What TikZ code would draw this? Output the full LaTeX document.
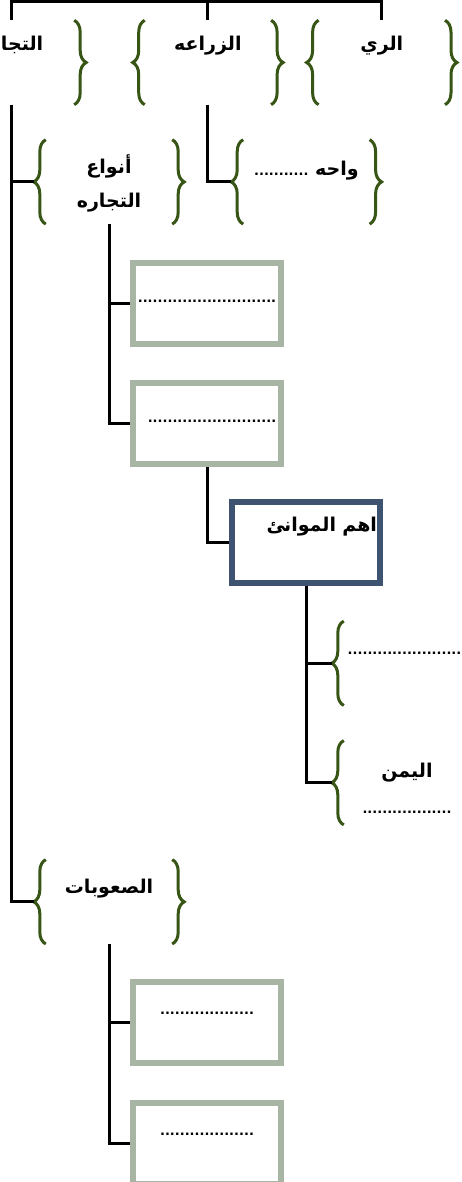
\documentclass[tikz,border=0pt]{standalone}
\usepackage{fontspec}
\usepackage{tikz}
\usetikzlibrary{positioning}
\usetikzlibrary{decorations.pathreplacing}
\newfontfamily\arabicfont[Script=Arabic]{DejaVu Sans}
\TeXXeTstate=1
\newcommand{\ar}[1]{\beginR #1\endR}
\newcommand{\dts}[1]{{\fontsize{13}{15}\selectfont #1}}
\definecolor{bracegreen}{RGB}{55,85,20}
\definecolor{boxgray}{RGB}{168,181,164}
\definecolor{boxnavy}{RGB}{62,83,112}
\tikzstyle{edge}=[
	-,
	draw=black,
	line width=3pt
]
\tikzstyle{bvert}=[
	minimum width=150pt,
	inner sep=0pt,
	align=center,
	font=\arabicfont\bfseries\fontsize{19}{22}\selectfont
]
\tikzstyle{tvert}=[
	bvert,
	text height=30pt,
	text depth=54pt
]
\tikzstyle{bracepath}=[
	draw=bracegreen,
	line width=3pt,
	decorate,
	decoration={brace, amplitude=12pt}
]
\tikzstyle{gbox}=[
	draw=boxgray,
	line width=6pt,
	minimum width=148pt,
	inner sep=0pt,
	font=\arabicfont\bfseries\fontsize{19}{22}\selectfont
]
\tikzstyle{nbox}=[
	gbox,
	draw=boxnavy,
	text width=142pt,
	align=right
]
\begin{document}
\begin{tikzpicture}[x=1pt, y=1pt]
\useasboundingbox (0,0) rectangle (462,-1182);
\clip (0,0) rectangle (462,-1182);

\coordinate (rootup) at (196,5);
\coordinate (root) at (196,-2);

\node[tvert] (tijara) at (11,-62.5) {\ar{التجاره}};
\node[tvert, right=46.5pt of tijara] (zeraa) {\ar{الزراعه}};
\node[tvert, right=23.5pt of zeraa] (rayy) {\ar{الري}};

\node[bvert, text height=67.5pt, text depth=16.5pt, below=35pt of tijara, xshift=98pt] (anwaa) {\ar{أنواع}\\[12pt]\ar{التجاره}};
\node[bvert, text height=36pt, text depth=48pt, below=35pt of zeraa, xshift=98.5pt] (waha) {\ar{واحه \dts{...........}}};

\node[gbox, text height=39pt, text depth=42pt, below=36pt of anwaa, xshift=98pt] (box1) {\dts{............................}};
\node[gbox, text height=39pt, text depth=42pt, below=33pt of box1] (box2) {\hspace*{10pt}\dts{..........................}};
\node[nbox, text height=29pt, text depth=52pt, below=32pt of box2, xshift=99pt] (box3) {\ar{اهم الموانئ}};

\node[bvert, text height=33pt, text depth=51pt, below=35pt of box3, xshift=101pt] (ysub1) {\dts{........................}};
\node[bvert, text height=73pt, text depth=11pt, below=35pt of ysub1] (ysub2) {\ar{اليمن}\\[14pt]\dts{..................}};

\node[bvert, text height=34pt, text depth=50pt, below=635.5pt of anwaa] (suobat) {\ar{الصعوبات}};
\node[gbox, text height=32pt, text depth=49pt, below=35pt of suobat, xshift=98pt] (box4) {\dts{...................}};
\node[gbox, text height=32pt, text depth=49pt, below=34pt of box4] (box5) {\dts{...................}};

\foreach \n in {tijara,zeraa,rayy,anwaa,waha,ysub1,ysub2,suobat} {
    \draw[bracepath] ([xshift=12pt]\n.south west) -- ([xshift=12pt]\n.north west);
    \draw[bracepath] ([xshift=-12pt]\n.north east) -- ([xshift=-12pt]\n.south east);
}

\draw[edge] (rootup) -- (root);
\draw[edge] (root) -| (tijara.north);
\draw[edge] (root) -| (zeraa.north);
\draw[edge] (root) -| (rayy.north);
\draw[edge] (tijara.south) |- (anwaa.west);
\draw[edge] (tijara.south) |- (suobat.west);
\draw[edge] (zeraa.south) |- (waha.west);
\draw[edge] (anwaa.south) |- (box1.west);
\draw[edge] (anwaa.south) |- (box2.west);
\draw[edge] (box2.south) |- (box3.west);
\draw[edge] (box3.south) |- (ysub1.west);
\draw[edge] (box3.south) |- (ysub2.west);
\draw[edge] (suobat.south) |- (box4.west);
\draw[edge] (suobat.south) |- (box5.west);
\end{tikzpicture}
\end{document}
